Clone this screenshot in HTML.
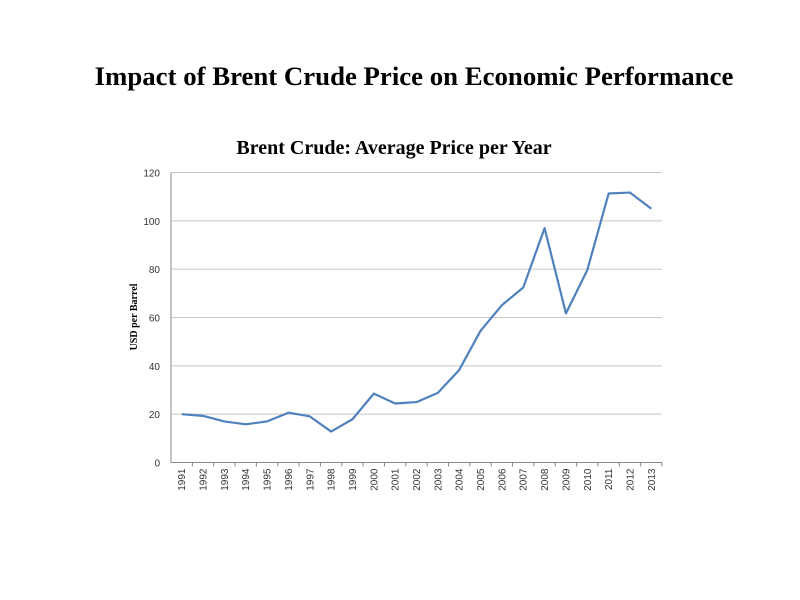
<!DOCTYPE html>
<html><head><meta charset="utf-8"><style>
body{margin:0;background:#fff}
svg{display:block}
</style></head><body>
<svg width="800" height="600" xmlns="http://www.w3.org/2000/svg">
<text x="414" y="85" text-anchor="middle" font-family="Liberation Serif, serif" font-weight="bold" font-size="26.8">Impact of Brent Crude Price on Economic Performance</text>
<text x="394" y="154" text-anchor="middle" font-family="Liberation Serif, serif" font-weight="bold" font-size="20">Brent Crude: Average Price per Year</text>
<text transform="translate(137,317) rotate(-90)" text-anchor="middle" font-family="Liberation Serif, serif" font-weight="bold" font-size="10">USD per Barrel</text>
<g id="grid"></g><g id="xaxis"></g><g id="series"></g>
</svg>
<script>
const years=['1991','1992','1993','1994','1995','1996','1997','1998','1999','2000','2001','2002','2003','2004','2005','2006','2007','2008','2009','2010','2011','2012','2013'];
const prices=[20,19.3,17,15.8,17,20.6,19.1,12.8,17.9,28.5,24.4,25,28.8,38.3,54.5,65.1,72.4,97,61.7,79.6,111.3,111.7,105];
const yTicks=[0,20,40,60,80,100,120];
const L=171,R=662,T=172.5,B=462.5,NS='http://www.w3.org/2000/svg';
const y=v=>B-(v/120)*(B-T);
const bw=(R-L)/years.length;
const x=i=>L+bw*(i+0.5);
function mk(t,a,p){const e=document.createElementNS(NS,t);for(const k in a)e.setAttribute(k,a[k]);p.appendChild(e);return e;}
const g=document.getElementById('grid'),xa=document.getElementById('xaxis'),s=document.getElementById('series');
yTicks.forEach(v=>{
 const l=mk('line',{x1:L,x2:R,y1:y(v),y2:y(v),stroke:v===0?'#888':'#c8c8c8','stroke-width':1},g);
 
 
 const t=mk('text',{x:160,y:y(v)+4,'text-anchor':'end','font-family':'Liberation Sans, sans-serif','font-size':10,fill:'#333'},g);
 t.textContent=v;
 
 
});
const ax=mk('line',{x1:L,x2:L,y1:T,y2:B,stroke:'#888'},g);


years.forEach((yr,i)=>{
 const tk=mk('line',{x1:L+bw*(i+1),x2:L+bw*(i+1),y1:B,y2:B+4,stroke:'#888'},xa);
 
 
 const t=mk('text',{transform:`translate(${x(i)+3.5},${B+6}) rotate(-90)`,'text-anchor':'end','font-family':'Liberation Sans, sans-serif','font-size':10,fill:'#333'},xa);
 t.textContent=yr;
 
 
});
const p=mk('polyline',{points:prices.map((v,i)=>x(i)+','+y(v)).join(' '),fill:'none',stroke:'#4f81bd','stroke-width':2.2,'stroke-linejoin':'round'},s);


</script>
</body></html>
